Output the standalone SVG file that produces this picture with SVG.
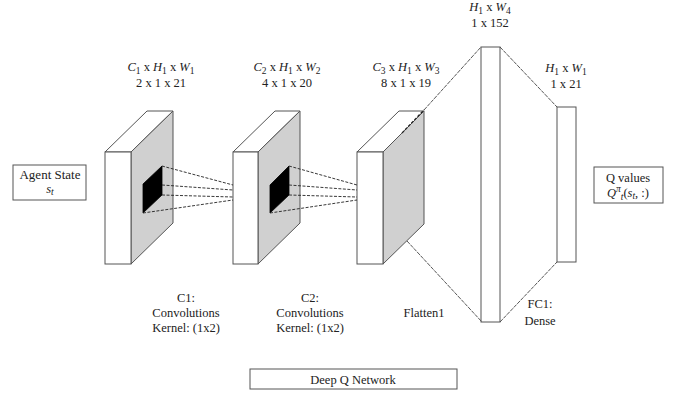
<svg xmlns="http://www.w3.org/2000/svg" width="681" height="396" viewBox="0 0 681 396">
<style>
text{font-family:"Liberation Serif","Times New Roman",serif;font-size:12.5px;fill:#222;text-anchor:middle}
.i{font-style:italic}
.s{font-size:9.5px}
.box{fill:#fff;stroke:#555;stroke-width:1}
.front{fill:#fff;stroke:#555;stroke-width:1}
.side{fill:#d0d0d0;stroke:#555;stroke-width:1}
.k{fill:#000;stroke:#000;stroke-width:0.8}
.dash{stroke:#222;stroke-width:0.9;stroke-dasharray:3 1.5;fill:none}
.ln{stroke:#444;stroke-width:0.9;fill:none;stroke-dasharray:4 1}
</style>
<rect width="681" height="396" fill="#fff"/>

<g id="agent-state">
<rect class="box" x="13" y="165" width="73" height="35"/>
<text x="50" y="179" style="font-size:13px">Agent State</text>
<text x="50" y="193"><tspan class="i">s</tspan><tspan dy="2" class="i s">t</tspan></text>
</g>

<g id="conv1">
<polygon class="front" points="105,152 131,152 173,111 147,111"/>
<polygon class="side" points="131,152 173,111 173,223 131,264"/>
<rect class="front" x="105" y="152" width="26" height="112"/>
<polygon class="k" points="143,184 162,166 162,195 143,213"/>
<text x="161" y="71"><tspan class="i">C</tspan><tspan dy="2.5" class="s">1</tspan><tspan dy="-2.5"> x </tspan><tspan class="i">H</tspan><tspan dy="2.5" class="s">1</tspan><tspan dy="-2.5"> x </tspan><tspan class="i">W</tspan><tspan dy="2.5" class="s">1</tspan></text>
<text x="161" y="87">2 x 1 x 21</text>
<text x="186" y="302">C1:</text>
<text x="186" y="317">Convolutions</text>
<text x="186" y="332">Kernel: (1x2)</text>
</g>

<g id="conv2">
<polygon class="front" points="233,152 258,152 300,111 275,111"/>
<polygon class="side" points="258,152 300,111 300,223 258,264"/>
<rect class="front" x="233" y="152" width="25" height="112"/>
<polygon class="k" points="270,185 289,166 289,195 270,213"/>
<text x="287" y="71"><tspan class="i">C</tspan><tspan dy="2.5" class="s">2</tspan><tspan dy="-2.5"> x </tspan><tspan class="i">H</tspan><tspan dy="2.5" class="s">1</tspan><tspan dy="-2.5"> x </tspan><tspan class="i">W</tspan><tspan dy="2.5" class="s">2</tspan></text>
<text x="287" y="87">4 x 1 x 20</text>
<text x="310" y="302">C2:</text>
<text x="310" y="317">Convolutions</text>
<text x="310" y="332">Kernel: (1x2)</text>
</g>

<g id="flatten1">
<polygon class="front" points="357,152 383,152 424,111 399,111"/>
<polygon class="side" points="383,152 424,111 424,224 383,264"/>
<rect class="front" x="357" y="152" width="26" height="112"/>
<text x="406" y="71"><tspan class="i">C</tspan><tspan dy="2.5" class="s">3</tspan><tspan dy="-2.5"> x </tspan><tspan class="i">H</tspan><tspan dy="2.5" class="s">1</tspan><tspan dy="-2.5"> x </tspan><tspan class="i">W</tspan><tspan dy="2.5" class="s">3</tspan></text>
<text x="406" y="87">8 x 1 x 19</text>
<text x="424" y="317">Flatten1</text>
</g>

<g id="flat-vector">
<rect class="box" x="481" y="47" width="19" height="275"/>
<text x="490" y="11"><tspan class="i">H</tspan><tspan dy="2.5" class="s">1</tspan><tspan dy="-2.5"> x </tspan><tspan class="i">W</tspan><tspan dy="2.5" class="s">4</tspan></text>
<text x="490" y="27">1 x 152</text>
</g>

<g id="fc1">
<rect class="box" x="557" y="107" width="19" height="155"/>
<text x="566" y="72"><tspan class="i">H</tspan><tspan dy="2.5" class="s">1</tspan><tspan dy="-2.5"> x </tspan><tspan class="i">W</tspan><tspan dy="2.5" class="s">1</tspan></text>
<text x="566" y="88">1 x 21</text>
<text x="540" y="308">FC1:</text>
<text x="540" y="325">Dense</text>
</g>

<g id="q-values">
<rect class="box" x="594" y="167" width="69" height="36"/>
<text x="628" y="182">Q values</text>
<text x="628" y="197"><tspan class="i">Q</tspan><tspan dy="-5" class="i s">π</tspan><tspan dy="8" class="i s">t</tspan><tspan dy="-3">(</tspan><tspan class="i">s</tspan><tspan dy="2" class="i s">t</tspan><tspan dy="-2">, :)</tspan></text>
</g>

<g id="dqn-label">
<rect class="box" x="250" y="369" width="207" height="20"/>
<text x="353" y="384">Deep Q Network</text>
</g>

<g id="connectors">
<line class="dash" x1="162" y1="166" x2="233" y2="185"/>
<line class="dash" x1="162" y1="185" x2="233" y2="190"/>
<line class="dash" x1="162" y1="195" x2="233" y2="197"/>
<line class="dash" x1="143" y1="213" x2="233" y2="200"/>
<line class="dash" x1="289" y1="166" x2="357" y2="185"/>
<line class="dash" x1="289" y1="185" x2="357" y2="190"/>
<line class="dash" x1="289" y1="195" x2="357" y2="197"/>
<line class="dash" x1="270" y1="213" x2="357" y2="200"/>
<line class="dash" x1="402" y1="133" x2="424" y2="110" style="stroke-width:1.3"/>
<line class="ln" x1="424" y1="110" x2="481" y2="47"/>
<line class="ln" x1="407" y1="241" x2="482" y2="322"/>
<line class="ln" x1="500" y1="47" x2="557" y2="107"/>
<line class="ln" x1="500" y1="322" x2="557" y2="262"/>
</g>
</svg>
